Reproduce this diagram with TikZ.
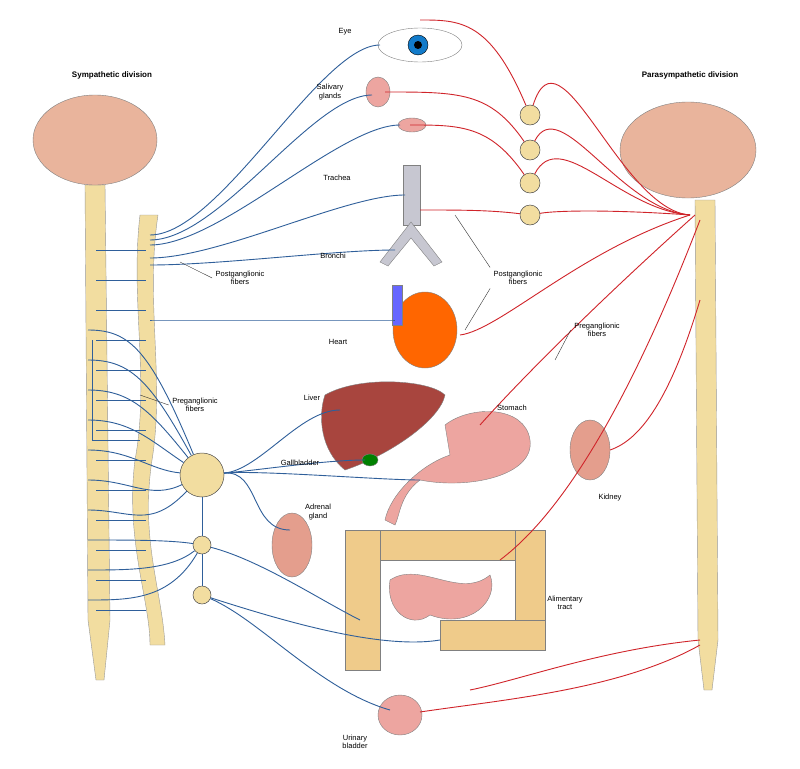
\documentclass[tikz,border=0pt]{standalone}
\usepackage{fontspec}
\setmainfont{Liberation Sans}
\usetikzlibrary{positioning,shapes.geometric}
\definecolor{brainpink}{HTML}{E9B49C}
\definecolor{cordtan}{HTML}{F2DDA0}
\definecolor{symblue}{HTML}{2F5F9A}
\definecolor{parared}{HTML}{D0242A}
\definecolor{organpink}{HTML}{EDA5A0}
\definecolor{liverred}{HTML}{A8453E}
\definecolor{gutan}{HTML}{EFCB8A}
\tikzset{
  lbl/.style={font=\fontsize{7.5}{8.5}\selectfont, align=center},
  title/.style={font=\bfseries\fontsize{8}{9}\selectfont},
  symnerve/.style={symblue, line width=0.9pt},
  paranerve/.style={parared, line width=0.9pt},
  ganglion/.style={circle, draw=black!70, fill=cordtan, line width=0.5pt},
  organ/.style={draw=black!50, line width=0.4pt},
}
\begin{document}
\begin{tikzpicture}[x=1pt,y=-1pt]
\useasboundingbox (0,0) rectangle (800,768);
\fill[white] (0,0) rectangle (800,768);
% titles
\node (symtitle) [title] at (112,75) {Sympathetic division};
\node (paratitle) [title] at (690,75) {Parasympathetic division};
% left brain and cord
\fill[cordtan, draw=black!40] (85,185) -- (105,185) -- (110,620) -- (104,680) -- (96,680) -- (88,620) -- cycle;
\fill[brainpink, draw=black!50] (95,140) ellipse (62 and 45);
\fill[cordtan, draw=black!40] (140,215) .. controls (130,300) and (150,380) .. (135,460) .. controls (125,540) and (150,600) .. (150,645) -- (165,645) .. controls (162,590) and (140,540) .. (152,460) .. controls (165,380) and (145,300) .. (158,215) -- cycle;
% right brain and cord
\fill[cordtan, draw=black!40] (695,200) -- (715,200) -- (718,640) -- (712,690) -- (704,690) -- (698,640) -- cycle;
\fill[brainpink, draw=black!50] (688,150) ellipse (68 and 48);
% organs
\fill[white, draw=black!50] (420,45) ellipse (42 and 17);
\fill[cyan!60!blue, draw=black] (418,45) circle (10);
\fill[black] (418,45) circle (4);
\fill[organpink, organ] (378,92) ellipse (12 and 15);
\fill[organpink, organ] (412,125) ellipse (14 and 7);
\fill[blue!10!gray!40, organ] (403,165) rectangle (420,225);
\fill[blue!10!gray!40, organ] (411,222) -- (380,262) -- (388,266) -- (411,238) -- (434,266) -- (442,262) -- cycle;
\fill[orange!80!red, organ] (425,330) ellipse (32 and 38);
\fill[blue!60, organ] (392,285) rectangle (402,325);
\fill[liverred, organ] (325,395) .. controls (360,375) and (430,380) .. (445,395) .. controls (440,420) and (390,455) .. (345,470) .. controls (320,450) and (318,415) .. cycle;
\fill[green!50!black, organ] (370,460) ellipse (8 and 6);
\fill[organpink, organ] (445,425) .. controls (470,405) and (525,405) .. (530,440) .. controls (535,475) and (470,490) .. (420,480) .. controls (400,495) and (400,515) .. (395,525) -- (385,520) .. controls (390,495) and (420,465) .. (450,455) -- cycle;
\fill[organpink!80!brown, organ] (590,450) ellipse (20 and 30);
\fill[organpink!80!brown, organ] (292,545) ellipse (20 and 32);
\fill[gutan, organ] (345,530) rectangle (545,560);
\fill[gutan, organ] (345,530) rectangle (380,670);
\fill[gutan, organ] (515,530) rectangle (545,640);
\fill[gutan, organ] (440,620) rectangle (545,650);
\fill[organpink, organ] (390,580) .. controls (420,560) and (460,600) .. (490,575) .. controls (500,600) and (470,630) .. (430,615) .. controls (410,630) and (385,610) .. cycle;
\fill[organpink, organ] (400,715) ellipse (22 and 20);
% ganglia
\node (celiac) [ganglion, minimum size=44pt] at (202,475) {};
\node (mesup) [ganglion, minimum size=18pt] at (202,545) {};
\node (meslow) [ganglion, minimum size=18pt] at (202,595) {};
\foreach \y [count=\i] in {115,150,183,215}
  \node (pg\i) [ganglion, minimum size=20pt] at (530,\y) {};
% cord to chain
\foreach \ya in {250,280,310,340,370,400,430,460,490,520,550,580,610}
  \draw[symnerve] (96,\ya) -- (146,\ya);
\draw[symnerve] (92,340) -- (92,440) -- (140,440);
% sympathetic nerves from chain to organs
\foreach \ya/\tx/\ty in {235/380/45, 240/372/95, 245/400/125, 258/405/195, 265/395/250, 320/395/320}
  \draw[symnerve] (150,\ya) .. controls (220,\ya) and (\tx-60,\ty) .. (\tx,\ty);
\foreach \ya in {330,360,390,420,450,480,510}
  \draw[symnerve] (88,\ya) .. controls (130,\ya) and (150,\ya+20) .. (celiac);
\foreach \ya in {540,570,600}
  \draw[symnerve] (88,\ya) .. controls (130,\ya) and (170,\ya) .. (mesup);
\foreach \tx/\ty in {340/410, 365/460, 420/480, 290/530}
  \draw[symnerve] (celiac) .. controls (260,470) and (\tx-40,\ty) .. (\tx,\ty);
\draw[symnerve] (mesup) .. controls (260,560) and (320,600) .. (360,620);
\draw[symnerve] (meslow) .. controls (260,620) and (320,690) .. (390,710);
\draw[symnerve] (meslow) .. controls (280,620) and (380,650) .. (440,640);
\draw[symnerve] (celiac) -- (mesup) -- (meslow);
% parasympathetic nerves
\foreach \i/\tx/\ty in {1/420/20, 2/385/92, 3/410/125, 4/420/210}
  \draw[paranerve] (690,215) .. controls (620,210) and (560,\ty) .. (pg\i) .. controls (490,\ty) and (460,\ty) .. (\tx,\ty);
\draw[paranerve] (690,215) .. controls (580,250) and (500,330) .. (460,335);
\draw[paranerve] (695,215) .. controls (600,300) and (520,380) .. (480,425);
\draw[paranerve] (700,220) .. controls (650,350) and (580,500) .. (500,560);
\draw[paranerve] (700,300) .. controls (670,400) and (640,440) .. (610,450);
\draw[paranerve] (700,640) .. controls (600,650) and (520,680) .. (470,690);
\draw[paranerve] (700,645) .. controls (620,690) and (500,700) .. (420,712);
% labels
\node (eyelbl) [lbl] at (345,32) {Eye};
\node (sallbl) [lbl] at (330,92) {Salivary\\glands};
\node (tralbl) [lbl] at (337,178) {Trachea};
\node (brolbl) [lbl] at (333,256) {Bronchi};
\node (hrtlbl) [lbl] at (338,342) {Heart};
\node (livlbl) [lbl] at (312,398) {Liver};
\node (gallbl) [lbl] at (300,463) {Gallbladder};
\node (adrlbl) [lbl] at (318,512) {Adrenal\\gland};
\node (stolbl) [lbl] at (512,408) {Stomach};
\node (kidlbl) [lbl] at (610,498) {Kidney};
\node (alilbl) [lbl] at (565,603) {Alimentary\\tract};
\node (urilbl) [lbl] at (355,742) {Urinary\\bladder};
\node (postl) [lbl] at (240,278) {Postganglionic\\fibers};
\node (prel) [lbl] at (195,405) {Preganglionic\\fibers};
\node (postr) [lbl] at (518,278) {Postganglionic\\fibers};
\node (prer) [lbl] at (597,330) {Preganglionic\\fibers};
\draw[black!80] (postl.west) -- (180,262);
\draw[black!80] (prel.west) -- (140,395);
\draw[black!80] (postr.north west) -- (455,215);
\draw[black!80] (postr.south west) -- (465,330);
\draw[black!80] (prer.west) -- (555,360);
\end{tikzpicture}
\end{document}
